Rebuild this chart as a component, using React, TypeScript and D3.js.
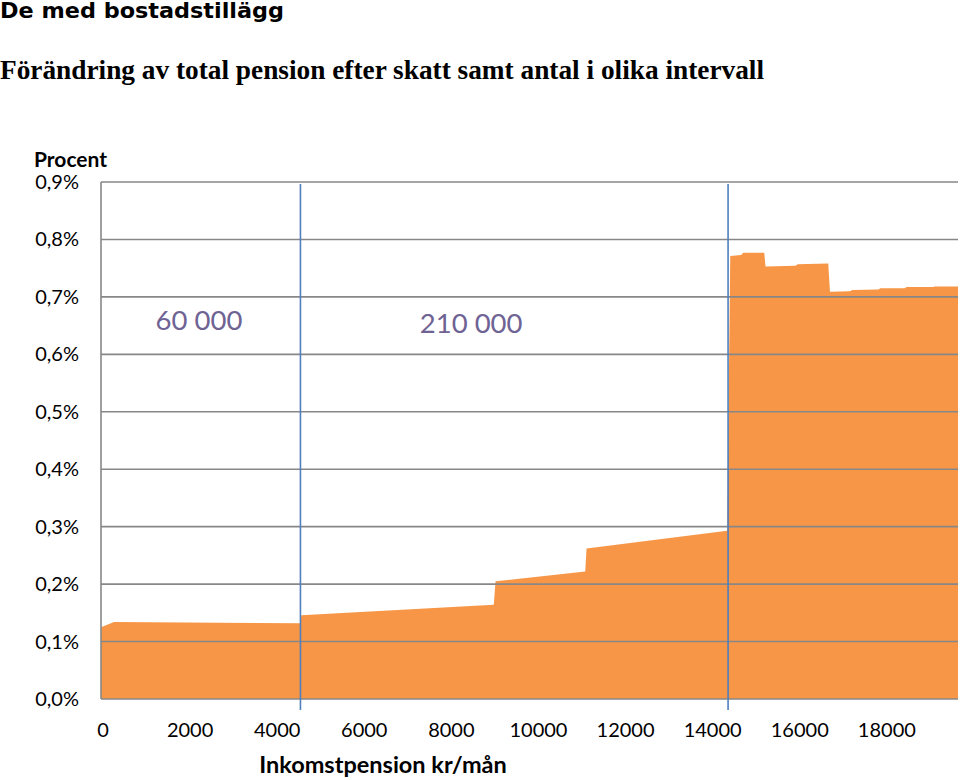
import { useEffect, useRef } from 'react';
import * as d3 from 'd3';

// Inkomstpension kr/mån (x) and förändring i procent (y)
const incomeKr = [
  0, 300, 4580, 4600, 9020, 9060, 11120, 11150, 14380, 14450, 14700, 14750,
  15230, 15260, 15950, 16000, 16700, 16740, 17200, 17250, 17850, 17900,
  18450, 18500, 19100, 19150, 19680,
];
const changePct = [
  0.125, 0.134, 0.132, 0.146, 0.164, 0.205, 0.222, 0.262, 0.293, 0.771, 0.773, 0.777,
  0.777, 0.753, 0.754, 0.757, 0.758, 0.709, 0.710, 0.712, 0.713, 0.715,
  0.715, 0.717, 0.717, 0.718, 0.718,
];

const yTicks = [0, 0.1, 0.2, 0.3, 0.4, 0.5, 0.6, 0.7, 0.8, 0.9];
const xTicks = [0, 2000, 4000, 6000, 8000, 10000, 12000, 14000, 16000, 18000];

// interval boundaries and their labels
const markerKr = [4580, 14400];
const markerLabels = ['60 000', '210 000'];
const markerLabelKr = [2250, 8500];
const markerLabelPct = [0.642, 0.637];

const width = 960;
const height = 780;
const margin = { top: 182, right: 2, bottom: 81, left: 101 };

export default function App() {
  const svgRef = useRef<SVGSVGElement>(null);

  useEffect(() => {
    if (!svgRef.current) return;
    const svg = d3.select(svgRef.current);
    svg.selectAll('*').remove();

    const innerWidth = width - margin.left - margin.right;
    const innerHeight = height - margin.top - margin.bottom;

    const x = d3.scaleLinear().domain([0, 19680]).range([0, innerWidth]);
    const y = d3.scaleLinear().domain([0, 0.9]).range([innerHeight, 0]);

    // titles
    svg.append('text')
      .attr('x', 0).attr('y', 18)
      .attr('font-family', '"DejaVu Sans", Verdana, sans-serif')
      .attr('font-weight', 'bold')
      .attr('font-size', 21)
      .attr('textLength', 284)
      .attr('lengthAdjust', 'spacingAndGlyphs')
      .text('De med bostadstillägg');

    svg.append('text')
      .attr('x', 0).attr('y', 79)
      .attr('font-family', '"Liberation Serif", "Times New Roman", serif')
      .attr('font-weight', 'bold')
      .attr('font-size', 27)
      .attr('textLength', 764)
      .attr('lengthAdjust', 'spacingAndGlyphs')
      .text('Förändring av total pension efter skatt samt antal i olika intervall');

    svg.append('text')
      .attr('x', 34).attr('y', 167)
      .attr('font-family', 'Lato, sans-serif')
      .attr('font-weight', 'bold')
      .attr('font-size', 21)
      .text('Procent');

    const g = svg.append('g')
      .attr('transform', `translate(${margin.left},${margin.top})`);

    // area
    const pts = incomeKr.map((k, i) => [k, changePct[i]] as [number, number]);
    const area = d3.area<[number, number]>()
      .x(d => x(d[0]))
      .y0(y(0))
      .y1(d => y(d[1]));
    g.append('path')
      .datum(pts)
      .attr('d', area)
      .attr('fill', '#f79646');

    // gridlines
    g.selectAll('.grid')
      .data(yTicks)
      .enter()
      .append('line')
      .attr('x1', 0).attr('x2', innerWidth)
      .attr('y1', d => y(d)).attr('y2', d => y(d))
      .attr('stroke', '#878787')
      .attr('stroke-width', 1.6);

    g.append('line')
      .attr('x1', 0).attr('x2', 0)
      .attr('y1', 0).attr('y2', innerHeight)
      .attr('stroke', '#878787')
      .attr('stroke-width', 1.6);

    // y labels
    g.selectAll('.ylab')
      .data(yTicks)
      .enter()
      .append('text')
      .attr('x', -22)
      .attr('y', d => y(d) + 7)
      .attr('text-anchor', 'end')
      .attr('font-family', 'Lato, sans-serif')
      .attr('font-size', 20)
      .text(d => d.toFixed(1).replace('.', ',') + '%');

    // x labels
    g.selectAll('.xlab')
      .data(xTicks)
      .enter()
      .append('text')
      .attr('x', d => x(d) + 2)
      .attr('y', innerHeight + 38)
      .attr('text-anchor', 'middle')
      .attr('font-family', 'Lato, sans-serif')
      .attr('font-size', 20)
      .text(d => String(d));

    svg.append('text')
      .attr('x', 383).attr('y', 773)
      .attr('text-anchor', 'middle')
      .attr('font-family', 'Lato, sans-serif')
      .attr('font-weight', 'bold')
      .attr('font-size', 23.5)
      .text('Inkomstpension kr/mån');

    // interval markers
    g.selectAll('.marker')
      .data(markerKr)
      .enter()
      .append('line')
      .attr('x1', d => x(d)).attr('x2', d => x(d))
      .attr('y1', 2).attr('y2', innerHeight + 11)
      .attr('stroke', '#4f7fbd')
      .attr('stroke-width', 1.6);

    g.selectAll('.mlab')
      .data(markerLabels)
      .enter()
      .append('text')
      .attr('x', (_, i) => x(markerLabelKr[i]))
      .attr('y', (_, i) => y(markerLabelPct[i]))
      .attr('text-anchor', 'middle')
      .attr('font-family', 'Lato, sans-serif')
      .attr('font-size', 27.5)
      .attr('fill', '#6f6394')
      .text(d => d);
  }, []);

  return (
    <svg
      ref={svgRef}
      width={width}
      height={height}
      style={{ display: 'block', position: 'absolute', left: 0, top: 0, background: '#fff' }}
    />
  );
}
